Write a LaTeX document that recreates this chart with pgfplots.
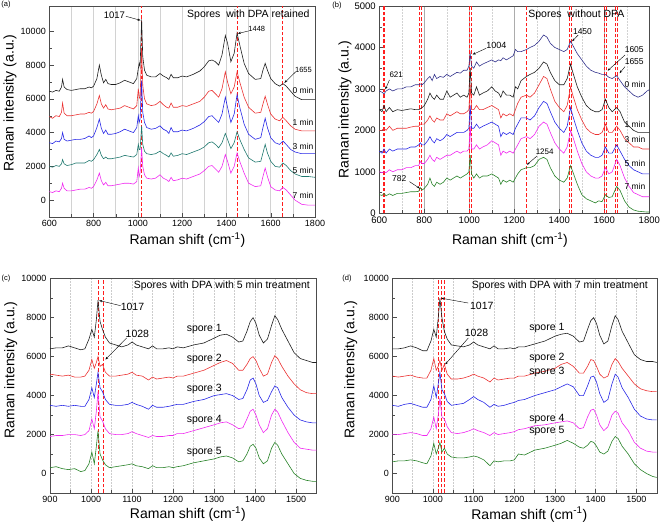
\documentclass[border=0pt]{standalone}
\usepackage{pgfplots}
\pgfplotsset{compat=1.18}
\usepackage{fontspec}
\setmainfont{Liberation Sans}
\usetikzlibrary{arrows.meta}
\definecolor{cblk}{RGB}{30,30,30}
\definecolor{cred}{RGB}{235,50,50}
\definecolor{cblue}{RGB}{40,40,230}
\definecolor{cteal}{RGB}{30,120,110}
\definecolor{cmag}{RGB}{240,40,240}
\definecolor{cnavy}{RGB}{50,50,140}
\definecolor{cgreen}{RGB}{40,130,40}
\definecolor{rline}{RGB}{255,30,30}
\pgfplotsset{
  panel/.style={scale only axis, clip=false, tick align=inside, tick pos=left,
    scaled ticks=false,
    axis line style={gray!60!black}, every tick/.style={gray!60!black},
    minor tick num=1, xmajorgrids, xminorgrids,
    major grid style={gray!35, line width=0.5pt}, minor grid style={gray!35, line width=0.5pt},
    ylabel={Raman intensity (a.u.)}, xlabel={Raman shift (cm\textsuperscript{-1})},
    label style={font=\fontsize{14}{16}\selectfont},
    tick label style={font=\fontsize{9}{10}\selectfont},
    /pgf/number format/1000 sep={}, /pgf/number format/assume math mode=true,
    every axis plot/.append style={line width=0.6pt, mark=none}},
  rd/.style={rline, line width=0.9pt, dash pattern=on 3.5pt off 2pt, forget plot},
}
\tikzset{ann/.style={font=\fontsize{#1}{#1}\selectfont, inner sep=0pt},
  arr/.style={-{Stealth[length=3pt,width=2.2pt]}, line width=0.4pt}}
\begin{document}
\begin{tikzpicture}
\path[use as bounding box] (0pt,0pt) rectangle (660pt,526pt);
\node[ann=7.5] at (6pt,521pt) {(a)};
\node[ann=7.5] at (337pt,520pt) {(b)};
\node[ann=7.5] at (6pt,247pt) {(c)};
\node[ann=7.5] at (347pt,247pt) {(d)};
% ---------------- (a)
\begin{axis}[panel, at={(49.3pt,309pt)}, anchor=south west, width=265.7pt, height=211pt,
  xmin=600, xmax=1800, ymin=-1000, ymax=11500, xtick={600,800,...,1800}, ytick={0,2000,...,10000},
  xlabel style={at={(axis description cs:0.52,-0.109)}, anchor=center},
  ylabel style={at={(axis description cs:-0.148,0.54)}, anchor=center}]
\addplot[rd] coordinates {(1017,-1000)(1017,11500)};
\addplot[rd] coordinates {(1448,-1000)(1448,11500)};
\addplot[rd] coordinates {(1655,-1000)(1655,11500)};
\addplot[cblk] coordinates {(600,6450)(615,6400)(630,6500)(645,6450)(655,6700)(660,7150)(667,6700)(680,6550)(700,6500)(720,6550)(740,6600)(760,6600)(780,6700)(790,6650)(800,6750)(815,7200)(826,8000)(835,7400)(845,6950)(855,7150)(865,6900)(880,6850)(900,6850)(920,6950)(940,7100)(960,7000)(980,6900)(995,7200)(1002,7800)(1006,8100)(1010,7900)(1017,10700)(1022,8500)(1030,7700)(1040,7400)(1060,7300)(1080,7300)(1100,7500)(1115,7350)(1130,7250)(1140,7150)(1150,7450)(1160,7250)(1180,7250)(1200,7350)(1220,7300)(1250,7450)(1280,7650)(1300,7900)(1320,8250)(1335,8300)(1350,8200)(1365,8000)(1380,8600)(1395,9750)(1405,9300)(1420,8200)(1435,8700)(1448,9900)(1460,9200)(1480,8100)(1500,7500)(1530,7150)(1555,7200)(1565,7700)(1575,8100)(1585,7700)(1600,7200)(1620,6900)(1640,6750)(1655,6900)(1670,6750)(1690,6450)(1710,6150)(1740,5950)(1770,5950)(1800,5950)};
\addplot[cred] coordinates {(600,4950)(615,4850)(630,5000)(645,4950)(655,5200)(660,5750)(667,5150)(680,5000)(700,5000)(720,5050)(740,5100)(760,5100)(780,5200)(790,5150)(800,5250)(815,5700)(826,6200)(835,5700)(845,5450)(855,5650)(865,5400)(880,5350)(900,5400)(920,5450)(940,5600)(960,5500)(980,5400)(995,5600)(1002,6600)(1006,6100)(1010,6000)(1017,9000)(1022,6800)(1030,6000)(1040,5700)(1060,5600)(1080,5650)(1100,5850)(1115,5650)(1130,5500)(1140,5450)(1150,5750)(1160,5500)(1180,5500)(1200,5600)(1220,5550)(1250,5700)(1280,5850)(1300,6100)(1320,6450)(1335,6500)(1350,6300)(1365,6100)(1380,6600)(1395,7600)(1405,7000)(1420,6300)(1435,6700)(1448,7600)(1460,7000)(1480,6100)(1500,5500)(1530,5150)(1555,5200)(1565,5700)(1575,6150)(1585,5700)(1600,5100)(1620,4800)(1640,4700)(1655,4900)(1670,4700)(1690,4400)(1710,4200)(1740,4100)(1770,4100)(1800,4100)};
\addplot[cblue] coordinates {(600,3400)(615,3350)(630,3500)(645,3450)(655,3650)(660,4000)(667,3600)(680,3500)(700,3550)(720,3600)(740,3600)(760,3650)(780,3800)(790,3700)(800,3800)(815,4300)(826,4800)(835,4250)(845,3950)(855,4150)(865,3900)(880,3900)(900,3950)(920,4050)(940,4200)(960,4100)(980,4000)(995,4300)(1002,5000)(1006,4600)(1010,4800)(1017,7100)(1022,5200)(1030,4600)(1040,4300)(1060,4200)(1080,4250)(1100,4400)(1115,4200)(1130,4100)(1140,3950)(1150,4300)(1160,4050)(1180,4050)(1200,4150)(1220,4100)(1250,4250)(1280,4450)(1300,4650)(1320,4950)(1335,5000)(1350,4800)(1365,4600)(1380,5100)(1395,6100)(1405,5500)(1420,4600)(1435,5100)(1448,6250)(1460,5500)(1480,4500)(1500,3900)(1530,3600)(1555,3700)(1565,4300)(1575,4850)(1585,4300)(1600,3700)(1620,3400)(1640,3300)(1655,3500)(1670,3300)(1690,3000)(1710,2850)(1740,2750)(1770,2750)(1800,2750)};
\addplot[cteal] coordinates {(600,2000)(615,1950)(630,2050)(645,2000)(655,2150)(660,2400)(667,2150)(680,2050)(700,2100)(720,2200)(740,2200)(760,2200)(780,2350)(790,2300)(800,2400)(815,2700)(826,3000)(835,2650)(845,2450)(855,2550)(865,2450)(880,2450)(900,2500)(920,2550)(940,2650)(960,2600)(980,2550)(995,2700)(1002,3300)(1006,3000)(1010,3000)(1017,4400)(1022,3300)(1030,2900)(1040,2750)(1060,2700)(1080,2750)(1100,2900)(1115,2750)(1130,2650)(1140,2550)(1150,2800)(1160,2600)(1180,2650)(1200,2750)(1220,2700)(1250,2850)(1280,3000)(1300,3150)(1320,3400)(1335,3450)(1350,3300)(1365,3100)(1380,3400)(1395,3950)(1405,3600)(1420,3050)(1435,3400)(1448,4050)(1460,3600)(1480,3000)(1500,2500)(1530,2250)(1555,2300)(1565,2800)(1575,3300)(1585,2800)(1600,2300)(1620,2000)(1640,1950)(1655,2200)(1670,2050)(1690,1750)(1710,1550)(1740,1400)(1770,1400)(1800,1350)};
\addplot[cmag] coordinates {(600,500)(615,450)(630,550)(645,500)(655,700)(660,1000)(667,700)(680,550)(700,550)(720,600)(740,650)(760,650)(780,750)(790,700)(800,800)(815,1200)(826,1600)(835,1150)(845,900)(855,1050)(865,850)(880,850)(900,900)(920,950)(940,1000)(960,1000)(980,950)(995,1100)(1002,1900)(1006,1400)(1010,1600)(1017,3100)(1022,2000)(1030,1500)(1040,1300)(1060,1250)(1080,1300)(1100,1500)(1115,1300)(1130,1200)(1140,1100)(1150,1350)(1160,1150)(1180,1200)(1200,1300)(1220,1250)(1250,1400)(1280,1550)(1300,1750)(1320,2000)(1335,2050)(1350,1850)(1365,1650)(1380,2000)(1395,2700)(1405,2300)(1420,1600)(1435,2000)(1448,2800)(1460,2300)(1480,1600)(1500,1000)(1530,800)(1555,850)(1565,1400)(1575,1900)(1585,1400)(1600,800)(1620,600)(1640,550)(1655,750)(1670,600)(1690,300)(1710,0)(1740,-250)(1770,-300)(1800,-300)};
\node[ann=10.5] at (axis cs:1499,10950) {Spores\ \ with DPA retained};
\node[ann=9.5] at (axis cs:894,10950) {1017};
\draw[arr] (axis cs:946,10890) -- (axis cs:1012,10650);
\node[ann=7.5] at (axis cs:1537,10160) {1448};
\draw[arr] (axis cs:1500,10020) -- (axis cs:1452,9870);
\node[ann=7.5] at (axis cs:1748,7730) {1655};
\draw[arr] (axis cs:1712,7590) -- (axis cs:1662,6950);
\node[ann=8.5] at (axis cs:1746,6500) {0 min};
\node[ann=8.5] at (axis cs:1746,4630) {1 min};
\node[ann=8.5] at (axis cs:1746,3150) {3 min};
\node[ann=8.5] at (axis cs:1746,1730) {5 min};
\node[ann=8.5] at (axis cs:1746,300) {7 min};
\end{axis}
% ---------------- (b)
\begin{axis}[panel, at={(379.3pt,312.7pt)}, anchor=south west, width=270pt, height=207.3pt,
  xmin=600, xmax=1800, ymin=0, ymax=5000, xtick={600,800,...,1800}, ytick={0,1000,...,5000},
  major grid style={gray!65, line width=0.5pt}, minor grid style={gray!35, line width=0.5pt, densely dotted},
  tick label style={font=\fontsize{9.5}{10}\selectfont},
  xlabel style={at={(axis description cs:0.484,-0.129)}, anchor=center},
  ylabel style={at={(axis description cs:-0.127,0.5)}, anchor=center}]
\addplot[rd] coordinates {(617,0)(617,5000)};
\addplot[rd] coordinates {(625,0)(625,5000)};
\addplot[rd] coordinates {(778,0)(778,5000)};
\addplot[rd] coordinates {(786,0)(786,5000)};
\addplot[rd] coordinates {(1000,0)(1000,5000)};
\addplot[rd] coordinates {(1008,0)(1008,5000)};
\addplot[rd] coordinates {(1254,0)(1254,5000)};
\addplot[rd] coordinates {(1446,0)(1446,5000)};
\addplot[rd] coordinates {(1454,0)(1454,5000)};
\addplot[rd] coordinates {(1601,0)(1601,5000)};
\addplot[rd] coordinates {(1609,0)(1609,5000)};
\addplot[rd] coordinates {(1651,0)(1651,5000)};
\addplot[rd] coordinates {(1659,0)(1659,5000)};
\addplot[cnavy] coordinates {(600,2950)(612,2920)(621,2880)(630,2950)(645,3000)(660,2950)(680,3000)(700,3000)(720,3050)(740,3050)(760,3100)(775,3100)(782,3120)(790,3100)(800,3150)(815,3250)(825,3300)(835,3200)(845,3350)(855,3250)(870,3300)(885,3280)(900,3350)(915,3300)(930,3350)(945,3400)(960,3380)(975,3450)(990,3450)(998,3550)(1004,3850)(1010,3550)(1020,3500)(1032,3650)(1045,3550)(1060,3600)(1080,3650)(1100,3700)(1115,3650)(1130,3700)(1140,3680)(1150,3750)(1165,3700)(1180,3750)(1195,3800)(1205,3950)(1215,3900)(1230,3900)(1254,3950)(1270,4000)(1290,4050)(1310,4150)(1330,4300)(1345,4250)(1360,4100)(1380,4000)(1400,3950)(1420,3900)(1435,3950)(1450,4150)(1460,4050)(1480,3850)(1500,3700)(1520,3550)(1540,3450)(1560,3400)(1575,3380)(1590,3350)(1605,3350)(1620,3280)(1635,3250)(1655,3320)(1670,3200)(1690,3050)(1710,2950)(1730,2850)(1750,2800)(1770,2850)(1790,2950)(1800,2980)};
\addplot[cblk] coordinates {(600,2500)(612,2450)(621,2600)(630,2450)(645,2550)(660,2450)(680,2500)(700,2480)(720,2500)(740,2520)(760,2500)(775,2500)(782,2520)(790,2550)(800,2600)(815,2750)(825,2900)(835,2800)(845,2750)(855,2850)(870,2750)(885,2750)(900,2950)(915,2800)(930,2850)(945,2900)(960,2800)(975,2850)(990,2800)(998,2900)(1004,3500)(1010,2900)(1020,2850)(1032,3050)(1045,2850)(1060,2900)(1080,2950)(1100,3050)(1115,2950)(1130,2900)(1140,2800)(1150,2950)(1165,2850)(1180,2850)(1195,2800)(1205,3050)(1215,3000)(1230,3200)(1254,3300)(1270,3350)(1290,3400)(1310,3500)(1330,3650)(1345,3600)(1360,3400)(1380,3200)(1400,3100)(1420,3100)(1435,3250)(1450,3600)(1460,3400)(1480,3050)(1500,2800)(1520,2600)(1540,2500)(1560,2450)(1575,2450)(1590,2500)(1605,2750)(1620,2550)(1635,2450)(1655,2550)(1670,2450)(1690,2200)(1710,2100)(1730,2000)(1750,1950)(1770,1950)(1790,1950)(1800,1950)};
\addplot[cred] coordinates {(600,2000)(612,2000)(621,2050)(630,2000)(645,2100)(660,2000)(680,2050)(700,2050)(720,2050)(740,2080)(760,2100)(775,2100)(782,2150)(790,2150)(800,2150)(815,2250)(825,2350)(835,2250)(845,2200)(855,2300)(870,2250)(885,2250)(900,2400)(915,2350)(930,2400)(945,2450)(960,2400)(975,2400)(990,2450)(998,2500)(1004,3100)(1010,2500)(1020,2500)(1032,2600)(1045,2500)(1060,2500)(1080,2550)(1100,2600)(1115,2550)(1130,2500)(1140,2300)(1150,2400)(1165,2350)(1180,2400)(1195,2350)(1205,2500)(1215,2650)(1230,2800)(1254,2850)(1270,2800)(1290,2900)(1310,3100)(1330,3300)(1345,3250)(1360,3000)(1380,2700)(1400,2550)(1420,2450)(1435,2600)(1450,3050)(1460,2850)(1480,2500)(1500,2250)(1520,2050)(1540,1950)(1560,1900)(1575,1900)(1590,1950)(1605,2150)(1620,1950)(1635,1950)(1655,2100)(1670,2000)(1690,1800)(1710,1700)(1730,1600)(1750,1600)(1770,1550)(1790,1550)(1800,1550)};
\addplot[cblue] coordinates {(600,1500)(612,1450)(621,1550)(630,1450)(645,1550)(660,1500)(680,1550)(700,1550)(720,1550)(740,1600)(760,1600)(775,1650)(782,1700)(790,1650)(800,1650)(815,1750)(825,1850)(835,1750)(845,1700)(855,1800)(870,1750)(885,1800)(900,1900)(915,1850)(930,1900)(945,1950)(960,1950)(975,1950)(990,2000)(998,2050)(1004,2600)(1010,2050)(1020,2050)(1032,2150)(1045,2050)(1060,2100)(1080,2150)(1100,2200)(1115,2150)(1130,2100)(1140,1850)(1150,1950)(1165,1900)(1180,1950)(1195,1900)(1205,2050)(1215,2150)(1230,2300)(1254,2300)(1270,2250)(1290,2350)(1310,2550)(1330,2700)(1345,2650)(1360,2450)(1380,2200)(1400,2050)(1420,1950)(1435,2100)(1450,2550)(1460,2350)(1480,2000)(1500,1700)(1520,1500)(1540,1400)(1560,1350)(1575,1350)(1590,1400)(1605,1600)(1620,1450)(1635,1450)(1655,1650)(1670,1500)(1690,1300)(1710,1150)(1730,1050)(1750,1000)(1770,950)(1790,950)(1800,950)};
\addplot[cmag] coordinates {(600,1000)(612,980)(621,1000)(630,980)(645,1050)(660,1000)(680,1050)(700,1050)(720,1100)(740,1100)(760,1150)(775,1150)(782,1250)(790,1200)(800,1200)(815,1300)(825,1400)(835,1300)(845,1250)(855,1350)(870,1300)(885,1350)(900,1400)(915,1400)(930,1450)(945,1500)(960,1450)(975,1500)(990,1500)(998,1550)(1004,2100)(1010,1550)(1020,1550)(1032,1650)(1045,1550)(1060,1600)(1080,1650)(1100,1750)(1115,1700)(1130,1650)(1140,1400)(1150,1500)(1165,1450)(1180,1500)(1195,1450)(1205,1550)(1215,1650)(1230,1800)(1254,1850)(1270,1800)(1290,1900)(1310,2100)(1330,2200)(1345,2150)(1360,1950)(1380,1700)(1400,1550)(1420,1450)(1435,1600)(1450,2000)(1460,1850)(1480,1500)(1500,1200)(1520,1000)(1540,900)(1560,850)(1575,850)(1590,900)(1605,1100)(1620,950)(1635,1000)(1655,1300)(1670,1150)(1690,850)(1710,650)(1730,500)(1750,450)(1770,400)(1790,400)(1800,400)};
\addplot[cgreen] coordinates {(600,450)(612,430)(621,480)(630,420)(645,470)(660,430)(680,480)(700,480)(720,500)(740,520)(760,520)(775,530)(782,620)(790,560)(800,600)(815,700)(825,850)(835,700)(845,650)(855,750)(870,700)(885,750)(900,850)(915,800)(930,850)(945,900)(960,850)(975,900)(990,950)(998,1000)(1004,1400)(1010,950)(1020,850)(1032,950)(1045,850)(1060,900)(1080,900)(1100,950)(1115,900)(1130,850)(1140,700)(1150,800)(1165,750)(1180,800)(1195,750)(1205,850)(1215,950)(1230,1050)(1254,1100)(1270,1100)(1290,1150)(1310,1300)(1330,1350)(1345,1300)(1360,1100)(1380,900)(1400,800)(1420,750)(1435,850)(1450,1150)(1460,1000)(1480,700)(1500,450)(1520,350)(1540,300)(1560,250)(1575,300)(1590,280)(1605,450)(1620,380)(1635,400)(1655,650)(1670,550)(1690,300)(1710,150)(1730,80)(1750,50)(1770,40)(1790,30)(1800,30)};
\node[ann=10.5] at (axis cs:1476,4783) {Spores\ \ without DPA};
\node[ann=8] at (axis cs:675,3336) {621};
\draw[arr] (axis cs:645,3215) -- (axis cs:627,2990);
\node[ann=9] at (axis cs:1120,4060) {1004};
\draw[arr] (axis cs:1075,3980) -- (axis cs:1015,3830);
\node[ann=8.5] at (axis cs:1503,4380) {1450};
\draw[arr] (axis cs:1484,4300) -- (axis cs:1457,4150);
\node[ann=8.5] at (axis cs:1733,3955) {1605};
\draw[arr] (axis cs:1692,3818) -- (axis cs:1615,3440);
\node[ann=8.5] at (axis cs:1733,3658) {1655};
\draw[arr] (axis cs:1692,3537) -- (axis cs:1668,3380);
\node[ann=8] at (axis cs:1335,1487) {1254};
\draw[arr] (axis cs:1301,1383) -- (axis cs:1256,1170);
\node[ann=8.5] at (axis cs:689,844) {782};
\draw[arr] (axis cs:734,764) -- (axis cs:780,600);
\node[ann=8.5] at (axis cs:1736,3119) {0 min};
\node[ann=8.5] at (axis cs:1736,2154) {1 min};
\node[ann=8.5] at (axis cs:1736,1785) {3 min};
\node[ann=8.5] at (axis cs:1736,1206) {5 min};
\node[ann=8.5] at (axis cs:1736,660) {7 min};
\end{axis}
% ---------------- (c)
\begin{axis}[panel, at={(50pt,33pt)}, anchor=south west, width=266.7pt, height=214.3pt,
  xmin=900, xmax=1550, ymin=-1000, ymax=10000, xtick={900,1000,...,1500}, ytick={0,2000,...,10000},
  major grid style={gray!40, densely dotted}, minor grid style={gray!40, densely dotted},
  xlabel style={at={(axis description cs:0.517,-0.097)}, anchor=center},
  ylabel style={at={(axis description cs:-0.147,0.574)}, anchor=center}]
\addplot[rd] coordinates {(1017,-1000)(1017,10000)};
\addplot[rd] coordinates {(1030,-1000)(1030,10000)};
\addplot[cblk] coordinates {(900,6400)(915,6450)(930,6450)(945,6550)(960,6450)(975,6350)(985,6400)(995,6900)(1002,7400)(1008,7000)(1013,7900)(1017,8900)(1022,7800)(1028,7400)(1035,7000)(1045,6700)(1060,6600)(1075,6500)(1090,6600)(1100,6750)(1110,6600)(1125,6500)(1140,6400)(1150,6550)(1160,6400)(1175,6400)(1190,6450)(1200,6400)(1210,6500)(1225,6450)(1250,6600)(1275,6700)(1300,6950)(1315,7100)(1330,7150)(1345,7000)(1360,6750)(1370,6800)(1380,7300)(1388,7800)(1395,8000)(1402,7700)(1410,7100)(1420,6700)(1430,6900)(1440,7600)(1448,8100)(1455,7900)(1465,7400)(1480,6800)(1495,6200)(1510,5900)(1525,5800)(1540,5700)(1550,5700)};
\addplot[cred] coordinates {(900,5100)(915,5050)(930,5000)(945,5050)(960,4950)(975,4950)(985,5000)(995,5300)(1002,5850)(1008,5400)(1013,5700)(1017,6000)(1022,5500)(1028,5600)(1035,5200)(1045,5000)(1060,5000)(1075,5050)(1090,5100)(1100,5200)(1110,5050)(1125,5000)(1140,4800)(1150,4950)(1160,4850)(1175,4900)(1190,4950)(1200,4900)(1210,5000)(1225,5000)(1250,5150)(1275,5300)(1300,5550)(1315,5700)(1330,5800)(1345,5650)(1360,5300)(1370,5300)(1380,5600)(1388,5900)(1395,6000)(1402,5800)(1410,5400)(1420,5000)(1430,5100)(1440,5700)(1448,6050)(1455,5900)(1465,5500)(1480,5000)(1495,4600)(1510,4300)(1525,4150)(1540,4100)(1550,4100)};
\addplot[cblue] coordinates {(900,3500)(915,3450)(930,3500)(945,3450)(960,3500)(975,3450)(985,3450)(995,3800)(1002,4400)(1008,3900)(1013,4600)(1017,5200)(1022,4400)(1028,4200)(1035,3800)(1045,3550)(1060,3500)(1075,3500)(1090,3550)(1100,3650)(1110,3550)(1125,3450)(1140,3300)(1150,3500)(1160,3400)(1175,3400)(1190,3450)(1200,3500)(1210,3550)(1225,3550)(1250,3700)(1275,3800)(1300,4000)(1315,4050)(1330,4100)(1345,4000)(1360,3800)(1370,3850)(1380,4300)(1388,4800)(1395,4900)(1402,4600)(1410,4000)(1420,3650)(1430,3750)(1440,4200)(1448,4500)(1455,4400)(1465,3900)(1480,3400)(1495,3000)(1510,2750)(1525,2650)(1540,2600)(1550,2600)};
\addplot[cmag] coordinates {(900,1900)(915,1950)(930,1950)(945,2000)(960,2000)(975,1950)(985,2000)(995,2200)(1002,2800)(1008,2300)(1013,3200)(1017,4200)(1022,2900)(1028,2700)(1035,2300)(1045,2050)(1060,2000)(1075,2000)(1090,2050)(1100,2150)(1110,2050)(1125,1950)(1140,1850)(1150,1950)(1160,1900)(1175,1900)(1190,1950)(1200,1950)(1210,2050)(1225,2050)(1250,2200)(1275,2350)(1300,2500)(1315,2600)(1330,2650)(1345,2500)(1360,2300)(1370,2350)(1380,2800)(1388,3200)(1395,3300)(1402,3000)(1410,2500)(1420,2100)(1430,2300)(1440,3000)(1448,3300)(1455,3150)(1465,2700)(1480,2100)(1495,1600)(1510,1300)(1525,1250)(1540,1200)(1550,1200)};
\addplot[cgreen] coordinates {(900,300)(915,350)(930,250)(945,200)(960,250)(975,100)(985,150)(995,500)(1002,1100)(1008,500)(1013,1400)(1017,2200)(1022,1000)(1028,700)(1035,450)(1045,300)(1060,350)(1075,400)(1090,450)(1100,500)(1110,400)(1125,350)(1140,250)(1150,400)(1160,300)(1175,300)(1190,350)(1200,300)(1210,350)(1225,400)(1250,550)(1275,650)(1300,750)(1315,850)(1330,900)(1345,800)(1360,600)(1370,650)(1380,1000)(1388,1400)(1395,1500)(1402,1300)(1410,800)(1420,500)(1430,650)(1440,1300)(1448,1600)(1455,1450)(1465,1000)(1480,500)(1495,0)(1510,-250)(1525,-350)(1540,-400)(1550,-400)};
\node[ann=10.5] at (axis cs:1319,9640) {Spores with DPA with 5 min treatment};
\node[ann=10.5] at (axis cs:1101,8530) {1017};
\draw[arr] (axis cs:1072,8615) -- (axis cs:1020,8880);
\node[ann=10.5] at (axis cs:1113,7160) {1028};
\draw[arr] (axis cs:1087,6960) -- (axis cs:1035,5850);
\node[ann=10.5] at (axis cs:1276,7440) {spore 1};
\node[ann=10.5] at (axis cs:1276,5880) {spore 2};
\node[ann=10.5] at (axis cs:1276,4340) {spore 3};
\node[ann=10.5] at (axis cs:1276,2770) {spore 4};
\node[ann=10.5] at (axis cs:1276,1090) {spore 5};
\end{axis}
% ---------------- (d)
\begin{axis}[panel, at={(392.3pt,33pt)}, anchor=south west, width=264.4pt, height=214.3pt,
  xmin=900, xmax=1550, ymin=-1000, ymax=10000, xtick={900,1000,...,1500}, ytick={0,2000,...,10000},
  major grid style={gray!40, densely dotted}, minor grid style={gray!40, densely dotted},
  xlabel style={at={(axis description cs:0.518,-0.101)}, anchor=center},
  ylabel style={at={(axis description cs:-0.157,0.575)}, anchor=center}]
\addplot[rd] coordinates {(1014,-1000)(1014,10000)};
\addplot[rd] coordinates {(1021,-1000)(1021,10000)};
\addplot[rd] coordinates {(1028,-1000)(1028,10000)};
\addplot[cblk] coordinates {(900,6400)(915,6400)(930,6450)(945,6550)(960,6450)(975,6300)(985,6300)(995,6800)(1002,7400)(1008,7000)(1013,8000)(1017,9000)(1022,8000)(1028,7300)(1035,6900)(1045,6600)(1060,6550)(1075,6500)(1090,6600)(1100,6750)(1110,6600)(1125,6500)(1140,6400)(1150,6550)(1160,6400)(1175,6400)(1190,6450)(1200,6400)(1210,6500)(1225,6500)(1250,6650)(1275,6800)(1300,7050)(1315,7150)(1330,7200)(1345,7050)(1360,6750)(1370,6800)(1380,7400)(1388,7850)(1395,8000)(1402,7700)(1410,7100)(1420,6650)(1430,6800)(1440,7600)(1448,8100)(1455,7900)(1465,7300)(1480,6700)(1495,6100)(1510,5850)(1525,5750)(1540,5750)(1550,5700)};
\addplot[cred] coordinates {(900,5000)(915,4950)(930,5000)(945,5050)(960,4950)(975,4900)(985,4900)(995,5300)(1002,5900)(1008,5300)(1013,5500)(1017,5800)(1022,5300)(1028,5600)(1035,5100)(1045,4850)(1060,4850)(1075,4900)(1090,5000)(1100,5100)(1110,5000)(1125,4900)(1140,4700)(1150,4900)(1160,4800)(1175,4850)(1190,4900)(1200,4900)(1210,5000)(1225,5000)(1250,5150)(1275,5250)(1300,5400)(1315,5600)(1330,5700)(1345,5500)(1360,5150)(1370,5150)(1380,5500)(1388,5850)(1395,5800)(1402,5500)(1410,5100)(1420,4900)(1430,5000)(1440,5600)(1448,5900)(1455,5750)(1465,5400)(1480,5000)(1495,4600)(1510,4350)(1525,4250)(1540,4200)(1550,4200)};
\addplot[cblue] coordinates {(900,3500)(915,3450)(930,3550)(945,3600)(960,3500)(975,3400)(985,3400)(995,3800)(1002,4500)(1008,3900)(1013,4600)(1017,5200)(1022,4300)(1028,4100)(1035,3700)(1045,3500)(1060,3550)(1075,3600)(1090,3800)(1100,3950)(1110,3800)(1125,3650)(1140,3400)(1150,3550)(1160,3450)(1175,3500)(1190,3600)(1200,3650)(1210,3750)(1225,3800)(1250,4000)(1275,4150)(1300,4300)(1315,4450)(1330,4600)(1345,4450)(1360,4000)(1370,4000)(1380,4500)(1388,4950)(1395,5000)(1402,4700)(1410,4100)(1420,3650)(1430,3800)(1440,4600)(1448,5100)(1455,4950)(1465,4400)(1480,3900)(1495,3300)(1510,2950)(1525,2800)(1540,2750)(1550,2750)};
\addplot[cmag] coordinates {(900,2000)(915,2000)(930,2050)(945,2100)(960,2050)(975,1950)(985,1950)(995,2300)(1002,2900)(1008,2300)(1013,3000)(1017,3900)(1022,2900)(1028,2800)(1035,2400)(1045,2100)(1060,2050)(1075,2100)(1090,2200)(1100,2300)(1110,2200)(1125,2100)(1140,1950)(1150,2100)(1160,2000)(1175,2050)(1190,2100)(1200,2150)(1210,2250)(1225,2300)(1250,2450)(1275,2500)(1300,2600)(1315,2650)(1330,2700)(1345,2600)(1360,2300)(1370,2350)(1380,2900)(1388,3250)(1395,3300)(1402,3000)(1410,2500)(1420,2200)(1430,2400)(1440,3000)(1448,3200)(1455,3100)(1465,2600)(1480,2200)(1495,1600)(1510,1300)(1525,1150)(1540,1100)(1550,1100)};
\addplot[cgreen] coordinates {(900,600)(915,650)(930,650)(945,700)(960,650)(975,550)(985,500)(995,900)(1002,1550)(1008,1000)(1013,1300)(1017,1600)(1022,1100)(1028,1300)(1035,1000)(1045,850)(1060,800)(1075,800)(1090,850)(1100,900)(1110,850)(1125,700)(1140,400)(1150,650)(1160,600)(1175,650)(1190,650)(1200,700)(1210,1000)(1225,950)(1250,1200)(1275,1300)(1300,1450)(1315,1550)(1330,1700)(1345,1550)(1360,1350)(1370,1300)(1380,1450)(1388,1650)(1395,1600)(1402,1400)(1410,1100)(1420,1000)(1430,1150)(1440,1650)(1448,1900)(1455,1800)(1465,1400)(1480,1000)(1495,500)(1510,200)(1525,0)(1540,-150)(1550,-200)};
\node[ann=10.5] at (axis cs:1312,9640) {Spores with DPA with 7 min treatment};
\node[ann=10.5] at (axis cs:1120,8580) {1017};
\draw[arr] (axis cs:1087,8750) -- (axis cs:1020,9000);
\node[ann=10.5] at (axis cs:1107,7210) {1028};
\draw[arr] (axis cs:1087,6960) -- (axis cs:1030,5600);
\node[ann=10.5] at (axis cs:1280,7470) {spore 1};
\node[ann=10.5] at (axis cs:1280,5930) {spore 2};
\node[ann=10.5] at (axis cs:1280,5200) {spore 3};
\node[ann=10.5] at (axis cs:1280,2800) {spore 4};
\node[ann=10.5] at (axis cs:1280,2170) {spore 5};
\end{axis}
\end{tikzpicture}
\end{document}
